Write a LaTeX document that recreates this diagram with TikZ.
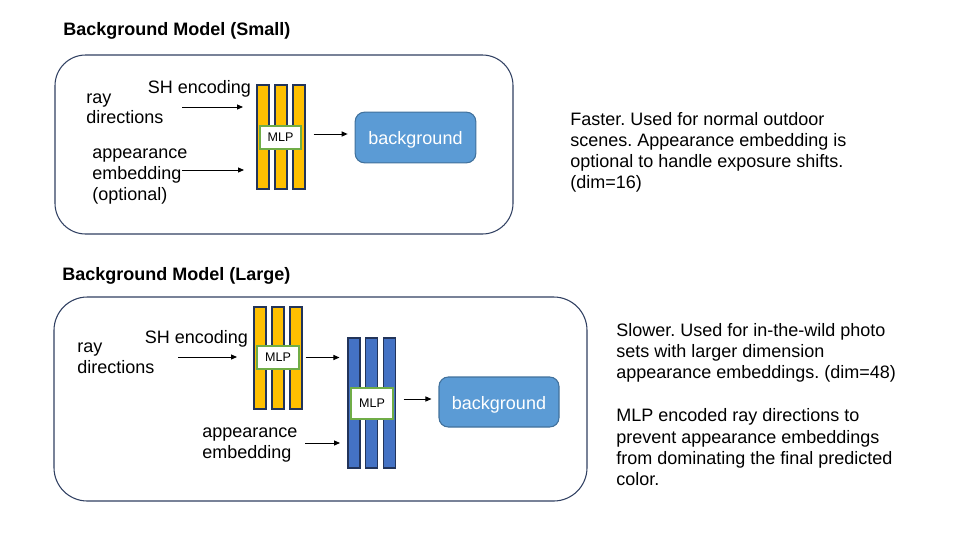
\documentclass[tikz,border=0pt]{standalone}
\usepackage{fontspec}
\setmainfont{Liberation Sans}
\usetikzlibrary{arrows.meta}
\usetikzlibrary{positioning}
\frenchspacing

\begin{document}
\begin{tikzpicture}[x = 0.75pt, y = -0.75pt,
  frame/.style = {draw = frameline, line width = 0.8pt},
  bar/.style = {draw = barline, line width = 0.8pt, inner sep = 0pt, minimum width = 9pt},
  mlp/.style = {draw = mlpline, fill = white, line width = 0.8pt, inner sep = 0pt, font = \fontsize{9.4}{10}\selectfont},
  bg/.style = {draw = bgline, fill = bgfill, text = white, rounded corners = 7pt, line width = 0.8pt, inner sep = 0pt, minimum width = 90.5pt, minimum height = 38pt, font = \fontsize{13.5}{15}\selectfont},
  lbl/.style = {inner sep = 0pt, align = left, font = \fontsize{13.5}{15}\selectfont},
  note/.style = {inner sep = 0pt, align = left, anchor = west, font = \fontsize{13.5}{16}\selectfont},
  title/.style = {inner sep = 0pt, anchor = west, font = \fontsize{13.5}{15}\selectfont\bfseries},
  arr/.style = {line width = 0.75pt, -{Triangle[length = 4.5pt, width = 3.8pt]}}]
\def\pxl{0.75pt}
\def\bgtext{\raisebox{-2pt}[8pt][1pt]{background}}

\definecolor{frameline}{HTML}{2F3F61}
\definecolor{barline}{HTML}{22345A}
\definecolor{mlpline}{HTML}{70AD47}
\definecolor{bgfill}{HTML}{5B9BD5}
\definecolor{bgline}{HTML}{41719C}
\definecolor{yellowbar}{HTML}{FFC000}
\definecolor{bluebar}{HTML}{4472C4}

\useasboundingbox (0, 0) rectangle (960, 540);

\node[title] (titleS) at (63, 31) {Background Model (Small)};
\draw[frame, rounded corners = 23pt] (55, 55) rectangle (513, 234);

\foreach \i/\x in {1/263, 2/281, 3/299}
  \node[bar, fill = yellowbar, minimum height = 104*\pxl] (ys\i) at (\x, 137) {};
\node[mlp, minimum width = 41*\pxl, minimum height = 23*\pxl] (mlpS) at (280.5, 137.5) {MLP};
\node[bg] (bgS) at (415.5, 137.5) {\bgtext};

\node[lbl, anchor = west] (rayS) at (86, 108.5) {ray\\directions};
\node[lbl] (shS) at (199.5, 89) {SH encoding};
\node[lbl, anchor = west, font = \fontsize{13.5}{15.75}\selectfont] (appS) at (92, 177) {appearance\\embedding\\(optional)};

\coordinate (shS-in) at (182, 107);
\coordinate (shS-out) at (243, 107);
\coordinate (appS-in) at (182, 170);
\coordinate (appS-out) at (244, 170);
\draw[arr] (shS-in) -- (shS-out);
\draw[arr] (appS-in) -- (appS-out);
\draw[arr] ([xshift = 12*\pxl]mlpS.east |- 0, 134) -- ([xshift = -7*\pxl]bgS.west |- 0, 134);

\node[note, font = \fontsize{13.5}{15.75}\selectfont] (noteS) at (570, 152.5) {Faster. Used for normal outdoor\\scenes. Appearance embedding is\\optional to handle exposure shifts.\\(dim=16)};

\node[title] (titleL) at (62, 275.5) {Background Model (Large)};
\draw[frame, rounded corners = 25pt] (54, 297) rectangle (587, 501);

\foreach \i/\x in {1/260, 2/278, 3/296}
  \node[bar, fill = yellowbar, minimum height = 102*\pxl] (yl\i) at (\x, 358) {};
\node[mlp, minimum width = 42*\pxl, minimum height = 23*\pxl] (mlpL1) at (278, 357.5) {MLP};

\foreach \i/\x in {1/354, 2/371.5, 3/389.5}
  \node[bar, fill = bluebar, minimum height = 130*\pxl] (bl\i) at (\x, 403) {};
\node[mlp, minimum width = 42*\pxl, minimum height = 31*\pxl] (mlpL2) at (372, 403.5) {MLP};
\node[bg, minimum width = 120*\pxl, minimum height = 50*\pxl] (bgL) at (499, 402) {\bgtext};

\node[lbl, anchor = west, font = \fontsize{13.5}{15.5}\selectfont] (rayL) at (77, 358.5) {ray\\directions};
\node[lbl] (shL) at (196.5, 339) {SH encoding};
\node[lbl, anchor = west, font = \fontsize{13.5}{15.75}\selectfont] (appL) at (202, 445) {appearance\\embedding};

\coordinate (shL-in) at (178, 357);
\coordinate (shL-out) at (237, 357);
\coordinate (appL-in) at (305, 443);
\coordinate (appL-out) at (340, 443);
\draw[arr] (shL-in) -- (shL-out);
\draw[arr] (appL-in) -- (appL-out);
\draw[arr] ([xshift = 6*\pxl]mlpL1.east) -- ([xshift = -8*\pxl]bl1.west |- mlpL1.east);
\draw[arr] ([xshift = 10*\pxl]mlpL2.east |- 0, 399) -- ([xshift = -7*\pxl]bgL.west |- 0, 399);

\node[note, font = \fontsize{13.5}{16.05}\selectfont] (noteL) at (616, 404.5) {Slower. Used for in-the-wild photo\\sets with larger dimension\\appearance embeddings. (dim=48)\\[16.05pt]MLP encoded ray directions to\\prevent appearance embeddings\\from dominating the final predicted\\color.};
\end{tikzpicture}
\end{document}
